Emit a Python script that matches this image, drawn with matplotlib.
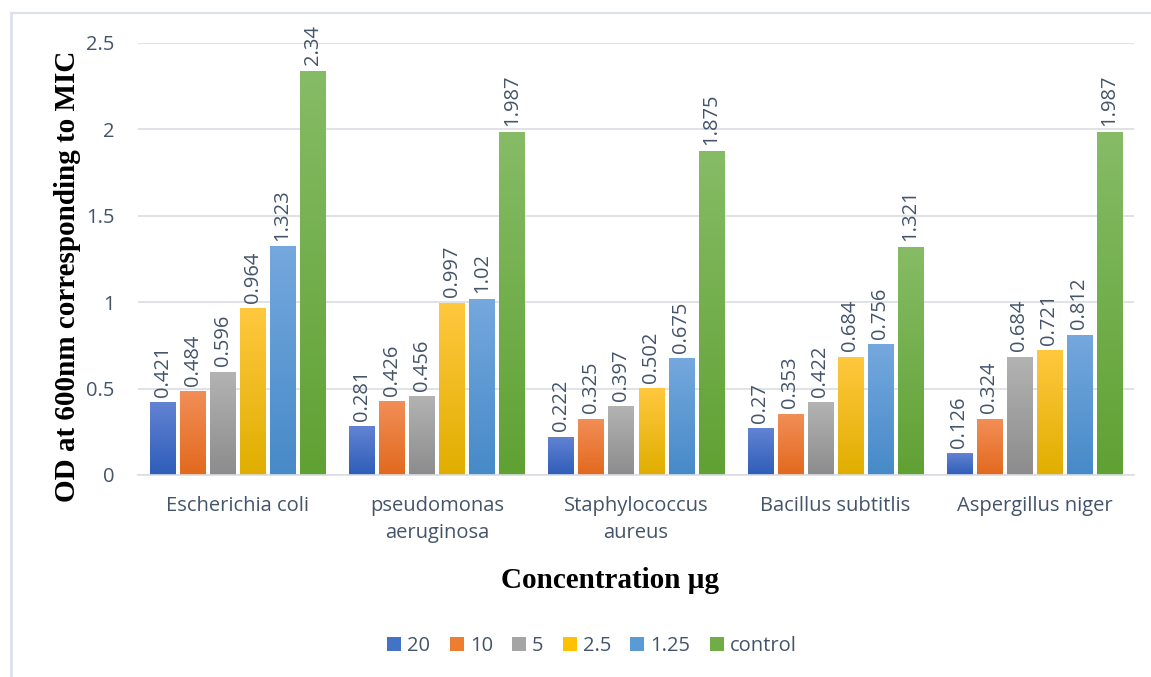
import numpy as np
import matplotlib
matplotlib.use("Agg")
import matplotlib.pyplot as plt
from matplotlib.colors import LinearSegmentedColormap
from matplotlib.patches import Patch
from matplotlib.lines import Line2D

categories = ["Escherichia coli", "pseudomonas\naeruginosa", "Staphylococcus\naureus",
              "Bacillus subtitlis", "Aspergillus niger"]
series_names = ["20", "10", "5", "2.5", "1.25", "control"]
v20 = [0.421, 0.281, 0.222, 0.27, 0.126]
v10 = [0.484, 0.426, 0.325, 0.353, 0.324]
v5 = [0.596, 0.456, 0.397, 0.422, 0.684]
v2_5 = [0.964, 0.997, 0.502, 0.684, 0.721]
v1_25 = [1.323, 1.02, 0.675, 0.756, 0.812]
vcontrol = [2.34, 1.987, 1.875, 1.321, 1.987]
series = [v20, v10, v5, v2_5, v1_25, vcontrol]
yticks = [0, 0.5, 1, 1.5, 2, 2.5]
ytick_labels = ["0", "0.5", "1", "1.5", "2", "2.5"]

# (top colour, bottom colour) for the gradient fills
grad = [("#6283D3", "#2E5DB8"),
        ("#F28E57", "#E2691D"),
        ("#B3B3B3", "#8C8C8C"),
        ("#FFC83F", "#E0AE00"),
        ("#75A8DE", "#468AC8"),
        ("#86BC66", "#60A133")]
mid = ["#4472C4", "#ED7D31", "#A5A5A5", "#FFC000", "#5B9BD5", "#70AD47"]
txt = "#44546A"
font = "Open Sans"

fig = plt.figure(figsize=(11.51, 6.77), dpi=100)
ax = fig.add_axes([138/1151, 1-475/677, (1134-138)/1151, (475-43)/677])

x = np.arange(len(categories))
pitch = 30/199
width = 25/199
n = len(series)
for i, vals in enumerate(series):
    pos = x + (i - (n-1)/2) * pitch
    bars = ax.bar(pos, vals, width, color=mid[i], zorder=2)
    cmap = LinearSegmentedColormap.from_list("g%d" % i, [grad[i][1], grad[i][0]])
    for b, v in zip(bars, vals):
        b.set_facecolor("none")
        b.set_edgecolor("none")
        x0, y0 = b.get_x(), b.get_y()
        w, h = b.get_width(), b.get_height()
        im = ax.imshow(np.linspace(0, 1, 256).reshape(-1, 1), cmap=cmap, origin="lower",
                       extent=[x0, x0 + w, y0, y0 + h], aspect="auto", zorder=2,
                       interpolation="bilinear")
        im.set_clip_path(b)
        ax.annotate(f"{v:g}", (x0 + w/2, y0 + h), xytext=(0, 4), textcoords="offset points",
                    rotation=90, ha="center", va="bottom", fontsize=14.5, color=txt,
                    family=font)

ax.set_xlim(-0.5, 4.5)
ax.set_ylim(0, 2.5)
ax.set_yticks(yticks)
ax.set_yticklabels(ytick_labels, family=font, fontsize=14.5, color=txt)
ax.set_xticks(x)
ax.set_xticklabels(categories, family=font, fontsize=14.5, color=txt, linespacing=1.5)
ax.tick_params(axis="both", length=0)
ax.tick_params(axis="y", pad=17)
ax.tick_params(axis="x", pad=15)
ax.grid(axis="y", color="#D9DDE3", linewidth=1.2, zorder=0)
for s in ["top", "right", "left"]:
    ax.spines[s].set_visible(False)
ax.spines["bottom"].set_color("#D9DDE3")
ax.spines["bottom"].set_linewidth(1.2)

fig.text(68/1151, 1-276/677, "OD at 600nm corresponding to MIC", rotation=90,
         ha="center", va="center", family="Liberation Serif", fontweight="bold",
         fontsize=21, color="black")
fig.text(610/1151, 1-580/677, "Concentration µg", ha="center", va="center",
         family="Liberation Serif", fontweight="bold", fontsize=21, color="black")

handles = [Patch(facecolor=mid[i], edgecolor="none") for i in range(n)]
leg = fig.legend(handles, series_names, loc="center", bbox_to_anchor=(592/1151, 1-646/677),
                 ncol=n, frameon=False, prop={"family": font, "size": 14.5},
                 handlelength=0.7, handleheight=0.7, handletextpad=0.3, columnspacing=0.95)
for t in leg.get_texts():
    t.set_color(txt)

fig.add_artist(Line2D([11/1151, 11/1151], [0, 1-13/677], transform=fig.transFigure,
                      color="#DDE1EA", linewidth=2))
fig.add_artist(Line2D([11/1151, 1], [1-13/677, 1-13/677], transform=fig.transFigure,
                      color="#DDE1EA", linewidth=1.5))

fig.savefig("out.png", dpi=100)
